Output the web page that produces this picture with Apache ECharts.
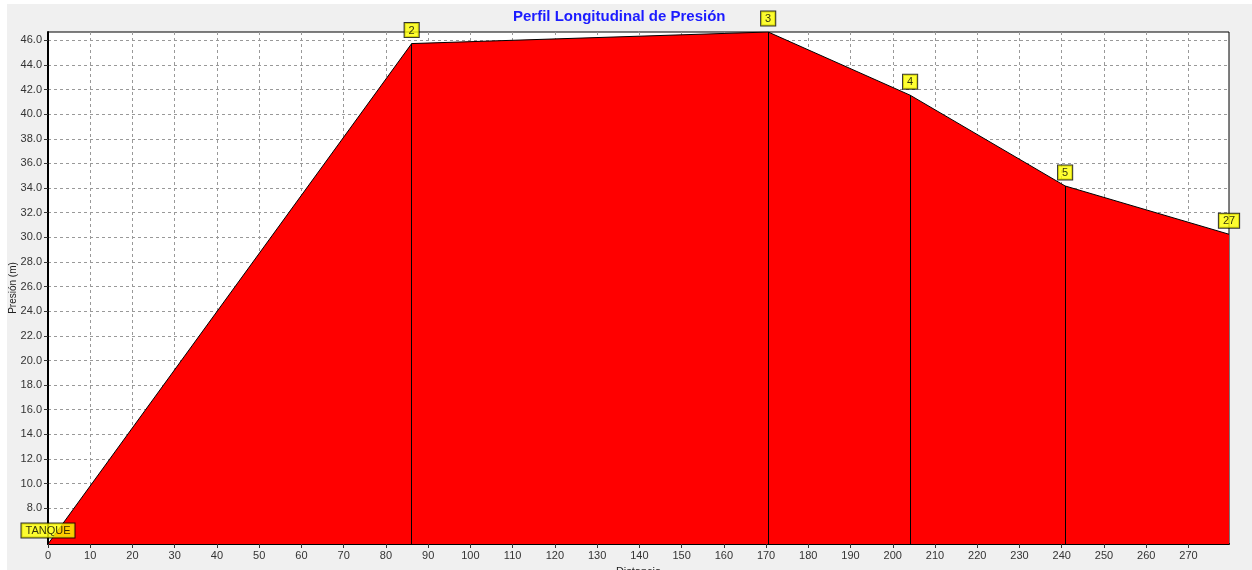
<!DOCTYPE html>
<html>
<head>
<meta charset="utf-8">
<script src="https://cdn.jsdelivr.net/npm/echarts@6/dist/echarts.min.js"></script>
<style>
  html, body { margin: 0; padding: 0; background: #fff; }
  #perfil { position: absolute; left: 7px; top: 4px; width: 1245px; height: 566px; }
</style>
</head>
<body>
<div id="perfil"></div>
<script>
// nodos del perfil
var nodos = ['TANQUE', '2', '3', '4', '5', '27'];
var distancias = [0, 86.1, 170.5, 204.1, 240.8, 279.6];
var presiones = [5.1, 45.73, 46.67, 41.54, 34.17, 30.25];

// marcas de los ejes
var xTicks = [0, 10, 20, 30, 40, 50, 60, 70, 80, 90, 100, 110, 120, 130, 140, 150, 160, 170, 180, 190, 200, 210, 220, 230, 240, 250, 260, 270];
var yTicks = [6, 8, 10, 12, 14, 16, 18, 20, 22, 24, 26, 28, 30, 32, 34, 36, 38, 40, 42, 44, 46];
var yLabels = [8, 10, 12, 14, 16, 18, 20, 22, 24, 26, 28, 30, 32, 34, 36, 38, 40, 42, 44, 46];

var yMin = Math.min.apply(null, presiones);
var yMax = Math.max.apply(null, presiones);

var puntos = nodos.map(function (n, i) {
  return { name: n, value: [distancias[i], presiones[i]] };
});

// lineas verticales en cada nodo intermedio
var verticales = [];
for (var i = 1; i < nodos.length - 1; i++) {
  verticales.push([{ coord: [distancias[i], yMin] }, { coord: [distancias[i], presiones[i]] }]);
}

var fuente = 'Liberation Sans';
var myChart = echarts.init(document.getElementById('perfil'));
myChart.setOption({
  backgroundColor: '#f0f0f0',
  animation: false,
  title: {
    text: 'Perfil Longitudinal de Presión',
    left: 506,
    top: 5,
    padding: 0,
    textStyle: { color: '#1c1cff', fontSize: 15, fontWeight: 'bold', fontFamily: fuente }
  },
  grid: {
    left: 41, right: 23, top: 28, bottom: 26,
    outerBoundsMode: 'none',
    containLabel: false,
    show: true, backgroundColor: '#fff', borderColor: '#000', borderWidth: 1
  },
  xAxis: {
    type: 'value',
    min: 0,
    max: distancias[distancias.length - 1],
    name: 'Distancia',
    nameLocation: 'middle',
    nameGap: 22,
    nameMoveOverlap: false,
    nameTextStyle: { color: '#222', fontSize: 11, fontFamily: fuente },
    axisLine: { lineStyle: { color: '#000', width: 2 } },
    axisTick: { show: true, length: 4, lineStyle: { color: '#333' }, customValues: xTicks },
    axisLabel: { color: '#333', fontSize: 11, fontFamily: fuente, margin: 6, customValues: xTicks },
    splitLine: { show: true, lineStyle: { color: '#999', type: [3, 3] } }
  },
  yAxis: {
    type: 'value',
    min: yMin,
    max: yMax,
    name: 'Presión (m)',
    nameLocation: 'middle',
    nameGap: 30,
    nameMoveOverlap: false,
    nameTextStyle: { color: '#222', fontSize: 10, fontFamily: fuente },
    axisLine: { show: true, lineStyle: { color: '#000', width: 2 } },
    axisTick: { show: true, length: 4, lineStyle: { color: '#333' }, customValues: yTicks },
    axisLabel: {
      color: '#333', fontSize: 11, fontFamily: fuente, margin: 6, customValues: yLabels,
      formatter: function (v) { return v.toFixed(1); }
    },
    splitLine: { show: true, lineStyle: { color: '#999', type: [3, 3] } }
  },
  series: [{
    type: 'line',
    data: puntos,
    symbol: 'none',
    z: 3,
    lineStyle: { color: '#000', width: 1 },
    areaStyle: { color: '#ff0000', opacity: 1 },
    markLine: {
      silent: true,
      symbol: 'none',
      label: { show: false },
      lineStyle: { color: '#000', width: 1, type: 'solid' },
      data: verticales
    }
  }, {
    // etiquetas amarillas de los nodos
    type: 'scatter',
    data: puntos,
    symbolSize: 1,
    itemStyle: { color: 'rgba(0,0,0,0)' },
    clip: false,
    z: 5,
    label: {
      show: true,
      position: 'top',
      distance: 6,
      formatter: function (p) { return p.name; },
      backgroundColor: '#ffff00',
      borderColor: '#000',
      borderWidth: 1,
      padding: [2, 4, 1, 4],
      color: '#000',
      fontSize: 11,
      fontFamily: fuente
    }
  }]
});
</script>
</body>
</html>
